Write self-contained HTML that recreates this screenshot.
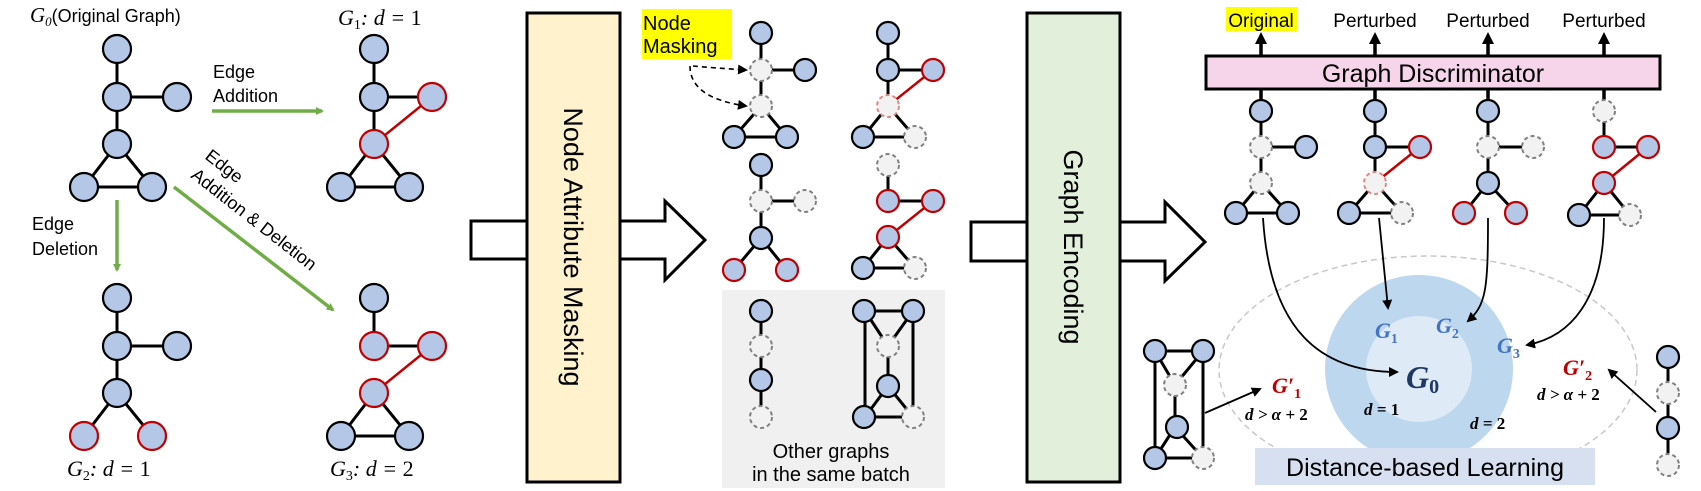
<!DOCTYPE html>
<html><head><meta charset="utf-8"><style>
html,body{margin:0;padding:0;background:#fff;}
svg{display:block;}
.n{fill:#b4c7e7;stroke:#000;stroke-width:2.2}
.r{fill:#b4c7e7;stroke:#c00000;stroke-width:2.2}
.m{fill:#f2f2f2;stroke:#808080;stroke-width:2;stroke-dasharray:4 3}
.mr{fill:#f2f2f2;stroke:#e08888;stroke-width:2;stroke-dasharray:4 3}
.e{stroke:#000;stroke-width:3;fill:none}
.re{stroke:#c00000;stroke-width:2.5;fill:none}
.t{font-family:"Liberation Sans",sans-serif;fill:#000}
.mt{font-family:"Liberation Serif",serif;font-style:italic;}
</style></head><body>
<svg width="1701" height="491" viewBox="0 0 1701 491" xmlns="http://www.w3.org/2000/svg">
<defs>
<marker id="ga" markerWidth="8" markerHeight="8" refX="6" refY="4" orient="auto" markerUnits="userSpaceOnUse"><path d="M0,0 L8,4 L0,8 z" fill="#70ad47"/></marker>
<marker id="ka" markerWidth="10" markerHeight="10" refX="8" refY="5" orient="auto" markerUnits="userSpaceOnUse"><path d="M0,0 L10,5 L0,10 z" fill="#000"/></marker>
<marker id="sa" markerWidth="12" markerHeight="12" refX="10" refY="6" orient="auto" markerUnits="userSpaceOnUse"><path d="M0,1 L11,6 L0,11 z" fill="#000"/></marker>
</defs>

<!-- ===== Left section ===== -->
<text x="30" y="22" class="t" font-size="18"><tspan class="mt" font-size="21">G</tspan><tspan font-size="13" dy="4" class="mt" font-style="normal">0</tspan><tspan dy="-4">(Original Graph)</tspan></text>
<text x="338" y="25" font-size="22" class="mt">G<tspan font-size="14" dy="4" font-style="normal">1</tspan><tspan dy="-4">: d = </tspan><tspan font-style="normal">1</tspan></text>
<text x="67" y="476" font-size="22" class="mt">G<tspan font-size="14" dy="4" font-style="normal">2</tspan><tspan dy="-4">: d = </tspan><tspan font-style="normal">1</tspan></text>
<text x="330" y="476" font-size="22" class="mt">G<tspan font-size="14" dy="4" font-style="normal">3</tspan><tspan dy="-4">: d = </tspan><tspan font-style="normal">2</tspan></text>

<!-- G0 -->
<g>
<path class="e" d="M117,49V144M117,97H177M117,144L84,187M117,144L152,187M84,187H152"/>
<circle class="n" cx="117" cy="49" r="14"/><circle class="n" cx="117" cy="97" r="14"/><circle class="n" cx="177" cy="97" r="14"/>
<circle class="n" cx="117" cy="144" r="14"/><circle class="n" cx="84" cy="187" r="14"/><circle class="n" cx="152" cy="187" r="14"/>
</g>
<!-- G1 -->
<g>
<path class="e" d="M374,49V144M374,97H432M374,144L341,187M374,144L409,187M341,187H409"/>
<path class="re" d="M374,144L432,97"/>
<circle class="n" cx="374" cy="49" r="14"/><circle class="n" cx="374" cy="97" r="14"/><circle class="r" cx="432" cy="97" r="14"/>
<circle class="r" cx="374" cy="144" r="14"/><circle class="n" cx="341" cy="187" r="14"/><circle class="n" cx="409" cy="187" r="14"/>
</g>
<!-- G2 -->
<g>
<path class="e" d="M117,298V393M117,346H177M117,393L84,436M117,393L152,436"/>
<circle class="n" cx="117" cy="298" r="14"/><circle class="n" cx="117" cy="346" r="14"/><circle class="n" cx="177" cy="346" r="14"/>
<circle class="n" cx="117" cy="393" r="14"/><circle class="r" cx="84" cy="436" r="14"/><circle class="r" cx="152" cy="436" r="14"/>
</g>
<!-- G3 -->
<g>
<path class="e" d="M374,298V346M374,346H432M374,393L341,436M374,393L409,436M341,436H409"/>
<path class="re" d="M374,393L432,346"/>
<circle class="n" cx="374" cy="298" r="14"/><circle class="r" cx="374" cy="346" r="14"/><circle class="r" cx="432" cy="346" r="14"/>
<circle class="r" cx="374" cy="393" r="14"/><circle class="n" cx="341" cy="436" r="14"/><circle class="n" cx="409" cy="436" r="14"/>
</g>
<!-- green arrows -->
<path d="M212,111H322" stroke="#70ad47" stroke-width="3.5" marker-end="url(#ga)"/>
<path d="M117,200V270" stroke="#70ad47" stroke-width="3.5" marker-end="url(#ga)"/>
<path d="M174,187L333,310" stroke="#70ad47" stroke-width="3.5" marker-end="url(#ga)"/>
<text x="213" y="78" class="t" font-size="18">Edge</text>
<text x="213" y="102" class="t" font-size="18">Addition</text>
<text x="32" y="230" class="t" font-size="18">Edge</text>
<text x="32" y="255" class="t" font-size="18">Deletion</text>
<text transform="translate(204,158) rotate(38)" class="t" font-size="18">Edge</text>
<text transform="translate(190,177) rotate(38)" class="t" font-size="18">Addition &amp; Deletion</text>

<!-- ===== Masking box & arrow ===== -->
<path d="M471,221H665V201L705,240L665,280V259H471Z" fill="#fff" stroke="#000" stroke-width="3"/>
<rect x="527" y="13" width="93" height="469" fill="#fff2cc" stroke="#000" stroke-width="3"/>
<text transform="translate(564,247) rotate(90)" text-anchor="middle" class="t" font-size="27">Node Attribute Masking</text>

<!-- Node masking label -->
<rect x="642" y="9" width="90" height="24" fill="#ffff00"/>
<rect x="642" y="33" width="90" height="26" fill="#ffff00"/>
<text x="643" y="30" class="t" font-size="20">Node</text>
<text x="643" y="53" class="t" font-size="20">Masking</text>
<path d="M693,66 Q715,68 746,70" fill="none" stroke="#000" stroke-width="1.6" stroke-dasharray="5 4" marker-end="url(#ka)"/>
<path d="M690,66 Q690,98 746,106" fill="none" stroke="#000" stroke-width="1.6" stroke-dasharray="5 4" marker-end="url(#ka)"/>

<!-- M1 -->
<path class="e" d="M761,33V106M761,70H805M761,106L734,137M761,106L787,137M734,137H787"/>
<circle class="n" cx="761" cy="33" r="11"/><circle class="m" cx="761" cy="70" r="11"/><circle class="n" cx="805" cy="70" r="11"/>
<circle class="m" cx="761" cy="106" r="11"/><circle class="n" cx="734" cy="137" r="11"/><circle class="n" cx="787" cy="137" r="11"/>
<!-- M2 -->
<path class="e" d="M888,33V106M888,70H933M888,106L863,137M888,106L915,137M863,137H915"/>
<path class="re" d="M888,106L933,70"/>
<circle class="n" cx="888" cy="33" r="11"/><circle class="n" cx="888" cy="70" r="11"/><circle class="r" cx="933" cy="70" r="11"/>
<circle class="mr" cx="888" cy="106" r="11"/><circle class="n" cx="863" cy="137" r="11"/><circle class="m" cx="915" cy="137" r="11"/>
<!-- M3 -->
<path class="e" d="M761,165V238M761,201H805M761,238L734,270M761,238L787,270"/>
<circle class="n" cx="761" cy="165" r="11"/><circle class="m" cx="761" cy="201" r="11"/><circle class="m" cx="805" cy="201" r="11"/>
<circle class="n" cx="761" cy="238" r="11"/><circle class="r" cx="734" cy="270" r="11"/><circle class="r" cx="787" cy="270" r="11"/>
<!-- M4 -->
<path class="e" d="M888,165V201M888,201H933M888,237L863,268M888,237L915,268M863,268H915"/>
<path class="re" d="M888,237L933,201"/>
<circle class="m" cx="888" cy="165" r="11"/><circle class="r" cx="888" cy="201" r="11"/><circle class="r" cx="933" cy="201" r="11"/>
<circle class="r" cx="888" cy="237" r="11"/><circle class="n" cx="863" cy="268" r="11"/><circle class="m" cx="915" cy="268" r="11"/>

<!-- other graphs box -->
<rect x="722" y="290" width="223" height="198" fill="#f0f0f0"/>
<path class="e" d="M761,311V417"/>
<circle class="n" cx="761" cy="311" r="11"/><circle class="m" cx="761" cy="346" r="11"/><circle class="n" cx="761" cy="380" r="11"/><circle class="m" cx="761" cy="417" r="11"/>
<path class="e" d="M865,311H913V417M865,311V417H913M865,311L888,346M913,311L888,346M888,346V386M888,386L865,417M888,386L913,417"/>
<circle class="n" cx="864" cy="311" r="11"/><circle class="n" cx="913" cy="311" r="11"/><circle class="m" cx="888" cy="346" r="11"/>
<circle class="n" cx="888" cy="386" r="11"/><circle class="n" cx="864" cy="417" r="11"/><circle class="m" cx="913" cy="417" r="11"/>
<text x="831" y="458" text-anchor="middle" class="t" font-size="20">Other graphs</text>
<text x="831" y="481" text-anchor="middle" class="t" font-size="20">in the same batch</text>

<!-- ===== Encoding box & arrow ===== -->
<path d="M971,222H1165V202L1205,242L1165,281V261H971Z" fill="#fff" stroke="#000" stroke-width="3"/>
<rect x="1027" y="13" width="93" height="469" fill="#e2efda" stroke="#000" stroke-width="3"/>
<text transform="translate(1064,247) rotate(90)" text-anchor="middle" class="t" font-size="27">Graph Encoding</text>

<!-- ===== Right section ===== -->
<rect x="1226" y="7" width="71" height="24" fill="#ffff00"/>
<text x="1261" y="27" text-anchor="middle" class="t" font-size="19">Original</text>
<text x="1375" y="27" text-anchor="middle" class="t" font-size="19">Perturbed</text>
<text x="1488" y="27" text-anchor="middle" class="t" font-size="19">Perturbed</text>
<text x="1604" y="27" text-anchor="middle" class="t" font-size="19">Perturbed</text>
<g stroke="#000" stroke-width="3.5">
<path d="M1261,100V42M1375,100V42M1488,100V42M1604,100V42"/>
</g>
<g fill="#000"><path d="M1255,44L1261,32L1267,44Z"/><path d="M1369,44L1375,32L1381,44Z"/><path d="M1482,44L1488,32L1494,44Z"/><path d="M1598,44L1604,32L1610,44Z"/></g>
<rect x="1206" y="56" width="454" height="33" fill="#f6d5ea" stroke="#000" stroke-width="3"/>
<text x="1433" y="82" text-anchor="middle" class="t" font-size="25">Graph Discriminator</text>

<!-- RA -->
<path class="e" d="M1261,111V183M1261,147H1306M1261,183L1236,213M1261,183L1288,213M1236,213H1288"/>
<circle class="n" cx="1261" cy="111" r="11"/><circle class="m" cx="1261" cy="147" r="11"/><circle class="n" cx="1306" cy="147" r="11"/>
<circle class="m" cx="1261" cy="183" r="11"/><circle class="n" cx="1236" cy="213" r="11"/><circle class="n" cx="1288" cy="213" r="11"/>
<!-- RB -->
<path class="e" d="M1375,111V183M1375,147H1420M1375,183L1349,213M1375,183L1402,213M1349,213H1402"/>
<path class="re" d="M1375,183L1420,147"/>
<circle class="n" cx="1375" cy="111" r="11"/><circle class="n" cx="1375" cy="147" r="11"/><circle class="r" cx="1420" cy="147" r="11"/>
<circle class="mr" cx="1375" cy="183" r="11"/><circle class="n" cx="1349" cy="213" r="11"/><circle class="m" cx="1402" cy="213" r="11"/>
<!-- RC -->
<path class="e" d="M1488,111V183M1488,147H1533M1488,183L1464,213M1488,183L1516,213"/>
<circle class="n" cx="1488" cy="111" r="11"/><circle class="m" cx="1488" cy="147" r="11"/><circle class="m" cx="1533" cy="147" r="11"/>
<circle class="n" cx="1488" cy="183" r="11"/><circle class="r" cx="1464" cy="213" r="11"/><circle class="r" cx="1516" cy="213" r="11"/>
<!-- RD -->
<path class="e" d="M1604,111V147M1604,147H1648M1604,183L1579,215M1604,183L1630,215M1579,215H1630"/>
<path class="re" d="M1604,183L1648,147"/>
<circle class="m" cx="1604" cy="111" r="11"/><circle class="r" cx="1604" cy="147" r="11"/><circle class="r" cx="1648" cy="147" r="11"/>
<circle class="r" cx="1604" cy="183" r="11"/><circle class="n" cx="1579" cy="215" r="11"/><circle class="m" cx="1630" cy="215" r="11"/>

<!-- distance area -->
<ellipse cx="1428" cy="370" rx="209" ry="114" fill="none" stroke="#c8c8c8" stroke-width="1.5" stroke-dasharray="6 4"/>
<circle cx="1419" cy="369" r="94" fill="#bdd7ee"/>
<circle cx="1419" cy="369" r="53" fill="#deebf7"/>
<rect x="1255" y="448" width="340" height="37" fill="#d6e0f0"/>
<text x="1425" y="476" text-anchor="middle" class="t" font-size="25">Distance-based Learning</text>

<g font-family="Liberation Serif,serif" font-style="italic" font-weight="bold">
<text x="1406" y="388" font-size="32" fill="#1f3864">G<tspan font-size="20" dy="5" font-style="normal">0</tspan></text>
<text x="1375" y="338" font-size="22" fill="#4472c4">G<tspan font-size="14" dy="5" font-style="normal">1</tspan></text>
<text x="1436" y="333" font-size="22" fill="#4472c4">G<tspan font-size="14" dy="5" font-style="normal">2</tspan></text>
<text x="1497" y="353" font-size="22" fill="#4472c4">G<tspan font-size="14" dy="5" font-style="normal">3</tspan></text>
<text x="1272" y="393" font-size="22" fill="#c00000">G′<tspan font-size="14" dy="5" font-style="normal">1</tspan></text>
<text x="1563" y="375" font-size="22" fill="#c00000">G′<tspan font-size="14" dy="5" font-style="normal">2</tspan></text>
<g font-size="17" fill="#000">
<text x="1245" y="420">d &gt; α + <tspan font-style="normal">2</tspan></text>
<text x="1537" y="400">d &gt; α + <tspan font-style="normal">2</tspan></text>
<text x="1364" y="415">d = <tspan font-style="normal">1</tspan></text>
<text x="1470" y="429">d = <tspan font-style="normal">2</tspan></text>
</g>
</g>

<!-- curved arrows -->
<g fill="none" stroke="#000" stroke-width="1.8">
<path d="M1263,218 C1270,330 1320,372 1397,372" marker-end="url(#ka)"/>
<path d="M1379,218 L1388,308" marker-end="url(#ka)"/>
<path d="M1488,218 C1488,290 1486,305 1468,321" marker-end="url(#ka)"/>
<path d="M1604,218 C1604,300 1570,337 1527,345" marker-end="url(#ka)"/>
<path d="M1205,413 L1260,389" marker-end="url(#ka)"/>
<path d="M1656,412 L1609,370" marker-end="url(#ka)"/>
</g>

<!-- left small graph -->
<path class="e" d="M1155,351H1203V458M1155,351V458H1203M1155,351L1175,385M1203,351L1175,385M1175,385V427M1175,427L1155,458M1175,427L1203,458"/>
<circle class="n" cx="1155" cy="351" r="11"/><circle class="n" cx="1203" cy="351" r="11"/><circle class="m" cx="1175" cy="385" r="11"/>
<circle class="n" cx="1177" cy="427" r="11"/><circle class="n" cx="1155" cy="458" r="11"/><circle class="m" cx="1203" cy="458" r="11"/>
<!-- right chain -->
<path class="e" d="M1668,357V465"/>
<circle class="n" cx="1668" cy="357" r="11"/><circle class="m" cx="1668" cy="393" r="11"/><circle class="n" cx="1668" cy="428" r="11"/><circle class="m" cx="1668" cy="465" r="11"/>
</svg>
</body></html>
